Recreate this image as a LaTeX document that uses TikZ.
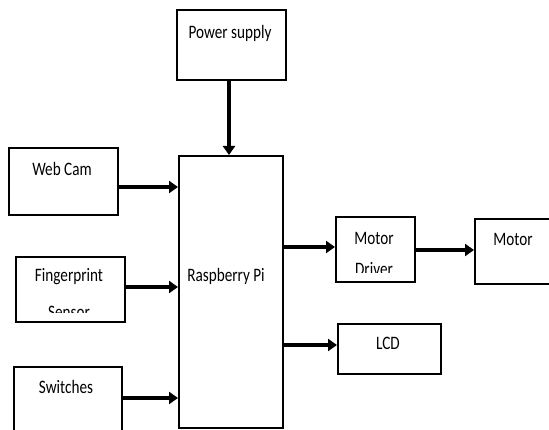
\documentclass[tikz,border=0pt]{standalone}
\usepackage{fontspec}
\setmainfont{Carlito}
\usetikzlibrary{arrows.meta}
\newcommand\sqz[1]{\scalebox{0.8}[1]{#1}}
\begin{document}
\begin{tikzpicture}[x=1pt,y=-1pt,
  box/.style={draw=black, line width=1.8pt, inner sep=0pt, anchor=north west},
  lbl/.style={inner sep=0pt, anchor=base, font=\fontsize{19}{21}\selectfont, text=black},
  arr/.style={draw=black, line width=3.6pt, -{Triangle[length=9pt,width=12pt]}}]
\useasboundingbox[fill=white] (0,0) rectangle (549,430);
% boxes
\node[box, minimum width=109pt, minimum height=70pt] (ps) at (176,9) {};
\node[box, minimum width=104pt, minimum height=272pt] (pi) at (178,155) {};
\node[box, minimum width=109pt, minimum height=67pt] (wc) at (8,147) {};
\node[box, minimum width=109pt, minimum height=65pt] (fp) at (15,256) {};
\node[box, minimum width=108pt, minimum height=70pt] (sw) at (13,366) {};
\node[box, minimum width=79pt, minimum height=65pt] (md) at (335,216) {};
\node[box, minimum width=80pt, minimum height=65pt] (mo) at (474,218) {};
\node[box, minimum width=103pt, minimum height=50pt] (lcd) at (337,323) {};
% labels
\node[lbl] (tps) at (230,39) {\sqz{Power supply}};
\node[lbl] (tpi) at (226,282) {\sqz{Raspberry Pi}};
\node[lbl] (twc) at (62,176) {\sqz{Web Cam}};
\node[lbl] (tfp) at (69,282) {\sqz{Fingerprint}};
\begin{scope}
  \clip (15,295) rectangle (124,313);
  \node[lbl] (tfp2) at (69,319) {\sqz{Sensor}};
\end{scope}
\node[lbl] (tsw) at (66,393) {\sqz{Switches}};
\node[lbl] (tmd) at (374,245) {\sqz{Motor}};
\begin{scope}
  \clip (335,255) rectangle (414,273);
  \node[lbl] (tmd2) at (374,276) {\sqz{Driver}};
\end{scope}
\node[lbl] (tmo) at (513,246) {\sqz{Motor}};
\node[lbl] (tlcd) at (388,349) {\sqz{LCD}};
% connector heights
\coordinate (y1) at (0,187);
\coordinate (y2) at (0,287);
\coordinate (y3) at (0,398);
\coordinate (y4) at (0,247);
\coordinate (y5) at (0,250);
\coordinate (y6) at (0,345);
\coordinate (xp) at (229,0);
% connectors
\draw[arr] (ps.south -| xp) -- (pi.north -| xp);
\draw[arr] (wc.east |- y1) -- (pi.west |- y1);
\draw[arr] (fp.east |- y2) -- (pi.west |- y2);
\draw[arr] (sw.east |- y3) -- (pi.west |- y3);
\draw[arr] (pi.east |- y4) -- (md.west |- y4);
\draw[arr] (md.east |- y5) -- (mo.west |- y5);
\draw[arr] (pi.east |- y6) -- (lcd.west |- y6);
\end{tikzpicture}
\end{document}
